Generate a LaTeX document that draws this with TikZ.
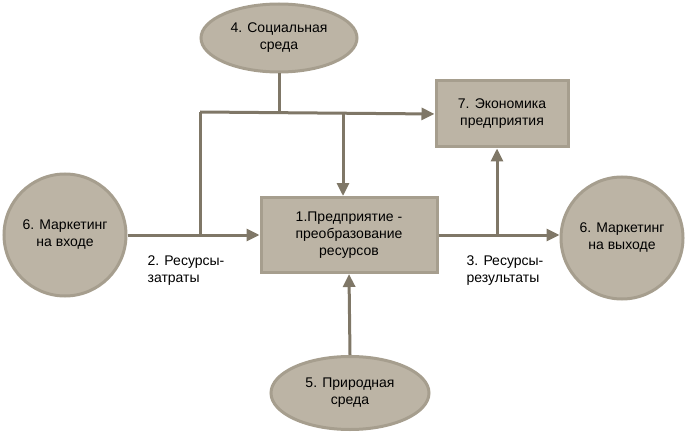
\documentclass[tikz,border=0pt]{standalone}
\usepackage{fontspec}
\setmainfont{Liberation Sans}
\usetikzlibrary{shapes.geometric,arrows.meta}
\definecolor{fillc}{HTML}{BCB4A5}
\definecolor{edgec}{HTML}{A69E8E}
\definecolor{linec}{HTML}{7F7767}
\tikzset{
  blob/.style={ellipse,fill=fillc,draw=edgec,line width=3pt,align=center,font=\fontsize{14}{17}\selectfont,inner sep=0pt},
  boxn/.style={rectangle,fill=fillc,draw=edgec,line width=3pt,align=center,font=\fontsize{14}{17}\selectfont},
  conn/.style={draw=linec,line width=3pt},
  arr/.style={conn,-{Triangle[length=13pt,width=12pt]}},
  lbl/.style={align=left,font=\fontsize{14}{17}\selectfont}
}
\begin{document}
\begin{tikzpicture}[x=1pt,y=-1pt]
\useasboundingbox (0,0) rectangle (688,433);
\node[blob,minimum width=156,minimum height=68] (soc) at (279,38) {4. Социальная\\среда};
\node[boxn,minimum width=132,minimum height=66] (eco) at (502,114) {7. Экономика\\предприятия};
\node[blob,minimum width=122,minimum height=122] (lin) at (65,235) {6. Маркетинг\\на входе};
\node[boxn,minimum width=176,minimum height=75] (ent) at (349,235) {1.Предприятие -\\преобразование\\ресурсов};
\node[blob,minimum width=122,minimum height=122] (rout) at (622,238) {6. Маркетинг\\на выходе};
\node[blob,minimum width=158,minimum height=73] (nat) at (350,393) {5. Природная\\среда};
\coordinate (j1) at (279,112);
\coordinate (jl) at (200,112);
\coordinate (jd) at (200,235);
\coordinate (jm) at (343,112);
\coordinate (jr) at (497,235);
\draw[conn] (soc.south) -- (j1);
\draw[arr] (jl) -- (eco.west);
\draw[conn] (jl) -- (jd);
\draw[arr] (lin.east) -- (ent.west);
\draw[arr] (jm) -- (jm |- ent.north);
\draw[arr] (ent.east) -- (rout.west |- ent.east);
\draw[arr] (jr) -- (jr |- eco.south);
\draw[arr] (nat.north) -- (ent.south);
\node[lbl] (l2) at (186,271) {2. Ресурсы-\\затраты};
\node[lbl] (l3) at (505,271) {3. Ресурсы-\\результаты};
\end{tikzpicture}
\end{document}
